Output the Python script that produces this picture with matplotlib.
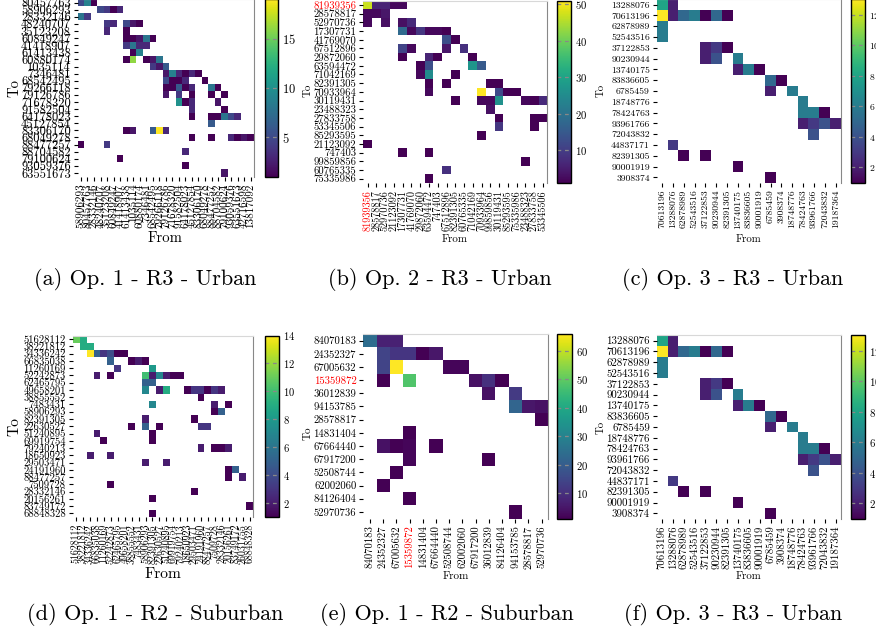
import numpy as np
import matplotlib
matplotlib.use("Agg")
import matplotlib.pyplot as plt

plt.rcParams['font.family'] = ['cmr10', 'DejaVu Serif']
plt.rcParams['axes.formatter.use_mathtext'] = True
plt.rcParams['mathtext.fontset'] = 'cm'

W, H = 876, 634

# ---------------- data ----------------
a_to = ['80457763','58906293','28332146','48240707','35123208','60849247','41418907',
        '61413438','60880174','1035114','7346481','68542495','79266118','79126786',
        '71678320','91582504','64178023','45127854','83306170','68049278','88477257',
        '88704582','79100624','93059376','63551673']
a_from = ['58906293','80457763','28332146','48240707','35123208','60849247','41418907',
          '61413438','1035114','60880174','7346481','68542495','79266118','79126786',
          '71678320','91582504','64178023','45127854','83306170','68049278','88477257',
          '88704582','79100624','93059376','63551673','42716598','13817092']
a_cells = [
    (0,0,5),(0,1,9),(0,2,1),
    (1,3,5),(1,4,4),(1,5,1),(1,6,3),
    (2,0,8),(2,1,4),
    (3,4,4),(3,5,3),(3,7,5),(3,8,2),(3,9,1),
    (4,4,3),(4,7,1),
    (5,7,1),(5,8,1),(5,9,2),(5,10,8),(5,11,1),
    (6,7,4),(6,8,8),(6,9,3),(6,10,3),
    (7,8,1),(7,9,9),
    (8,7,1),(8,8,16),(8,10,1),(8,11,2),(8,12,8),
    (9,11,4),(9,12,2),(9,13,6),
    (10,13,2),(10,14,9),(10,15,3),(10,16,1),(10,17,3),(10,18,1),
    (11,13,5),(11,14,1),(11,15,1),(11,16,3),(11,19,1),
    (12,13,1),(12,14,1),(12,15,6),(12,16,1),(12,17,3),(12,20,8),(12,21,1),
    (13,13,2),(13,15,4),(13,17,1),(13,20,1),(13,22,1),
    (14,15,10),(14,16,1),(14,17,3),(14,21,2),
    (15,17,3),(15,22,1),
    (16,17,1),(16,20,1),(16,21,1),(16,22,8),(16,23,5),(16,24,3),
    (17,20,6),
    (18,7,1),(18,8,2),(18,11,6),(18,12,19),(18,13,3),
    (19,17,1),(19,20,1),(19,23,3),(19,24,1),(19,25,2),(19,26,1),
    (20,0,1),(20,4,4),
    (21,16,3),
    (22,6,1),
    (23,16,1),
    (24,22,2)]

b_to = ['81939356','28578817','52970736','17307731','41769070','67512896','29872060',
        '63594472','71042169','82391305','70933964','30119431','23488323','27833758',
        '53345506','85293595','21123092','747403','99859856','60765335','75335986']
b_from = ['81939356','28578817','52970736','21123092','17307731','41769070','29872060',
          '63594472','747403','67512896','82391305','60765335','71042169','70933964',
          '99859856','30119431','85293595','75335986','23488323','27833758','53345506']
b_cells = [
    (0,0,47),(0,1,6),(0,2,6),(0,3,2),(0,4,2),
    (1,0,2),(1,1,2),(1,2,4),
    (2,0,2),(2,2,3),(2,4,3),(2,5,7),
    (3,4,18),(3,5,2),(3,6,9),(3,7,2),(3,8,2),(3,9,1),
    (4,9,13),(4,10,1),
    (5,4,11),(5,5,2),(5,9,4),(5,11,8),
    (6,4,1),(6,7,6),(6,8,1),(6,12,1),
    (7,6,1),(7,7,13),(7,12,27),(7,13,15),
    (8,6,2),(8,7,25),(8,10,1),
    (9,7,1),(9,9,1),(9,14,1),(9,15,1),
    (10,7,2),(10,13,51),(10,15,12),(10,16,1),(10,17,1),
    (11,10,1),(11,13,2),(11,14,2),(11,15,26),(11,18,2),(11,19,1),(11,20,7),
    (12,14,3),
    (13,15,1),(13,19,1),(13,20,1),
    (14,15,9),(14,19,1),
    (15,13,1),
    (16,0,1),
    (17,4,1),(17,7,1),
    (18,18,1),
    (19,9,8),
    (20,7,1)]

c_to = ['13288076','70613196','62878989','52543516','37122853','90230944','13740175',
        '83836605','6785459','18748776','78424763','93961766','72043832','44837171',
        '82391305','90001919','3908374']
c_from = ['70613196','13288076','62878989','52543516','37122853','90230944','82391305',
          '13740175','83836605','90001919','6785459','3908374','18748776','78424763',
          '93961766','72043832','19187364']
c_cells = [
    (0,0,8),(0,1,2),
    (1,0,13),(1,1,2),(1,2,5),(1,3,6),(1,4,1),(1,5,5),(1,6,1),
    (2,0,6),(3,0,6),
    (4,4,2),(4,5,3),(4,6,1),
    (5,4,2),(5,5,4),(5,7,6),
    (6,7,2),(6,8,6),(6,9,1),
    (7,10,5),(7,11,1),
    (8,10,2),(8,12,6),
    (9,13,6),
    (10,13,6),(10,14,6),(10,15,1),
    (11,13,2),(11,14,3),(11,15,4),(11,16,2),
    (12,14,4),
    (13,1,3),
    (14,2,1),(14,4,1),
    (15,7,1),
    (16,10,1)]

d_to = ['51628112','38221812','34336242','66835038','11260169','52242873','62465795',
        '49658201','38855552','7483431','58906293','82391305','22630527','51240895',
        '69919754','79240213','18650923','29503471','24191960','88477257','7509728',
        '28332146','20156261','83749172','68848328']
d_from = ['51628112','38221812','34336242','66835038','11260169','52242873','62465795',
          '49658201','38855552','7483431','58906293','82391305','22630527','51240895',
          '69919754','79240213','18650923','29503471','24191960','88477257','7509728',
          '28332146','20156261','83749172','26031755','68848328']
d_cells = [
    (0,0,11),(0,1,9),
    (1,1,9),(1,2,9),
    (2,2,14),(2,3,5),(2,4,3),(2,5,4),(2,6,1),(2,7,1),
    (3,5,5),(3,8,1),(3,9,2),(3,10,1),
    (4,6,3),(4,11,8),
    (5,3,2),(5,5,1),(5,10,10),(5,11,2),(5,12,7),(5,13,2),(5,14,1),(5,15,1),
    (6,10,5),(6,11,5),
    (7,10,7),(7,12,2),(7,13,9),(7,16,1),(7,17,3),(7,18,3),(7,19,1),(7,20,3),(7,21,2),
    (8,18,1),
    (9,11,7),(9,20,2),(9,22,1),
    (10,20,1),(10,21,5),
    (11,10,2),(11,17,1),
    (12,8,1),(12,10,5),(12,12,1),(12,18,3),(12,19,3),
    (13,3,2),(13,11,1),
    (14,4,1),(14,11,1),
    (15,18,2),(15,20,1),(15,21,1),(15,22,2),
    (16,2,2),(16,5,2),
    (17,10,2),(17,13,2),
    (18,22,1),(18,23,5),
    (19,22,1),(19,24,2),
    (20,5,1),
    (21,17,1),
    (22,11,1),
    (23,25,1),
    (24,11,1)]

e_to = ['84070183','24352327','67005632','15359872','36012839','94153785','28578817',
        '14831404','67664440','67917200','52508744','62002060','84126404','52970736']
e_from = ['84070183','24352327','67005632','15359872','14831404','67664440','52508744',
          '62002060','67917200','36012839','84126404','94153785','28578817','52970736']
e_cells = [
    (0,0,24),(0,1,7),(0,2,7),
    (1,1,14),(1,2,11),(1,3,11),(1,4,1),(1,5,5),
    (2,1,14),(2,2,66),(2,6,2),(2,7,2),
    (3,1,1),(3,3,48),(3,8,4),(3,9,10),(3,10,1),
    (4,9,4),(4,11,12),
    (5,11,22),(5,12,5),(5,13,4),
    (6,13,1),
    (7,3,1),
    (8,1,4),(8,2,1),(8,3,2),(8,5,1),
    (9,3,2),(9,9,1),
    (10,2,1),
    (11,1,1),
    (12,3,1),
    (13,11,1)]

captions = ['(a) Op. 1 - R3 - Urban', '(b) Op. 2 - R3 - Urban', '(c) Op. 3 - R3 - Urban',
            '(d) Op. 1 - R2 - Suburban', '(e) Op. 1 - R2 - Suburban', '(f) Op. 3 - R3 - Urban']


def rect(l, t, r, b):
    return [l / W, 1 - b / H, (r - l) / W, (b - t) / H]


def build(rows, cols, cells):
    m = np.full((len(rows), len(cols)), np.nan)
    for r, c, v in cells:
        m[r, c] = v
    return np.ma.masked_invalid(m)


fig = plt.figure(figsize=(W / 100, H / 100), dpi=100)


def panel(rows, cols, cells, heat, cbar, ticks, fs, xfs, lab_fs, from_xy, to_xy,
          red=None):
    m = build(rows, cols, cells)
    ax = fig.add_axes(rect(*heat))
    mesh = ax.pcolormesh(np.arange(len(cols) + 1), np.arange(len(rows) + 1), m,
                         cmap='viridis', vmin=1, vmax=float(m.max()))
    ax.set_xlim(0, len(cols))
    ax.set_ylim(len(rows), 0)
    ax.set_xticks(np.arange(len(cols)) + 0.5)
    ax.set_xticklabels(cols, rotation=90, fontsize=xfs)
    ax.set_yticks(np.arange(len(rows)) + 0.5)
    ax.set_yticklabels(rows, fontsize=fs)
    ax.tick_params(length=3, width=0.8, pad=2, colors='black')
    for s in ['left', 'bottom']:
        ax.spines[s].set_visible(False)
    ax.spines['top'].set_color('#d8d8d8')
    ax.spines['right'].set_color('#888888')
    if red is not None:
        for t in ax.get_xticklabels() + ax.get_yticklabels():
            if t.get_text() == red:
                t.set_color('red')
    cax = fig.add_axes(rect(*cbar))
    cb = fig.colorbar(mesh, cax=cax, ticks=ticks)
    cb.outline.set_edgecolor('black')
    cb.outline.set_linewidth(1.0)
    cax.tick_params(length=0, pad=3, labelsize=fs)
    for t in ticks:
        cax.axhline(t, color='#888888', lw=0.9, ls=(0, (3, 3)))
    fig.text(from_xy[0] / W, 1 - from_xy[1] / H, 'From', fontsize=lab_fs,
             ha='center', va='center')
    fig.text(to_xy[0] / W, 1 - to_xy[1] / H, 'To', fontsize=lab_fs,
             ha='center', va='center', rotation=90)


panel(a_to, a_from, a_cells, (77.7, -0.9, 254, 176.5), (265, -0.9, 278, 176.5),
      [5, 10, 15], 9.0, 8.0, 10.6, (165, 238), (15, 88))
panel(b_to, b_from, b_cells, (363.3, 0.7, 547.3, 183), (557, 0.7, 571, 183),
      [10, 20, 30, 40, 50], 7.7, 7.4, 7.9, (455, 239), (308, 90), red='81939356')
panel(c_to, c_from, c_cells, (656.7, -0.7, 841, 182.7), (851, -0.7, 865, 182.7),
      [2, 4, 6, 8, 10, 12], 7.0, 7.0, 7.8, (748, 239), (601, 90))
panel(d_to, d_from, d_cells, (72.7, 335.5, 253, 517), (265, 335.5, 279, 517),
      [2, 4, 6, 8, 10, 12, 14], 7.6, 7.2, 11.2, (163, 574), (15, 427))
panel(e_to, e_from, e_cells, (363.3, 334, 548.3, 518.5), (557, 334, 572, 518.5),
      [10, 20, 30, 40, 50, 60], 7.7, 7.7, 8.0, (456, 576), (308, 433), red='15359872')
panel(c_to, c_from, c_cells, (656.7, 335.3, 841, 518.7), (851, 335.3, 865, 518.7),
      [2, 4, 6, 8, 10, 12], 7.8, 7.8, 7.8, (748, 576), (601, 427))

cap_pos = [(145, 280), (440, 280), (733, 280), (155, 615), (447, 615), (733, 615)]
for txt, (x, y) in zip(captions, cap_pos):
    fig.text(x / W, 1 - y / H, txt, fontsize=16, ha='center', va='center')

fig.savefig('out.png', dpi=100)
